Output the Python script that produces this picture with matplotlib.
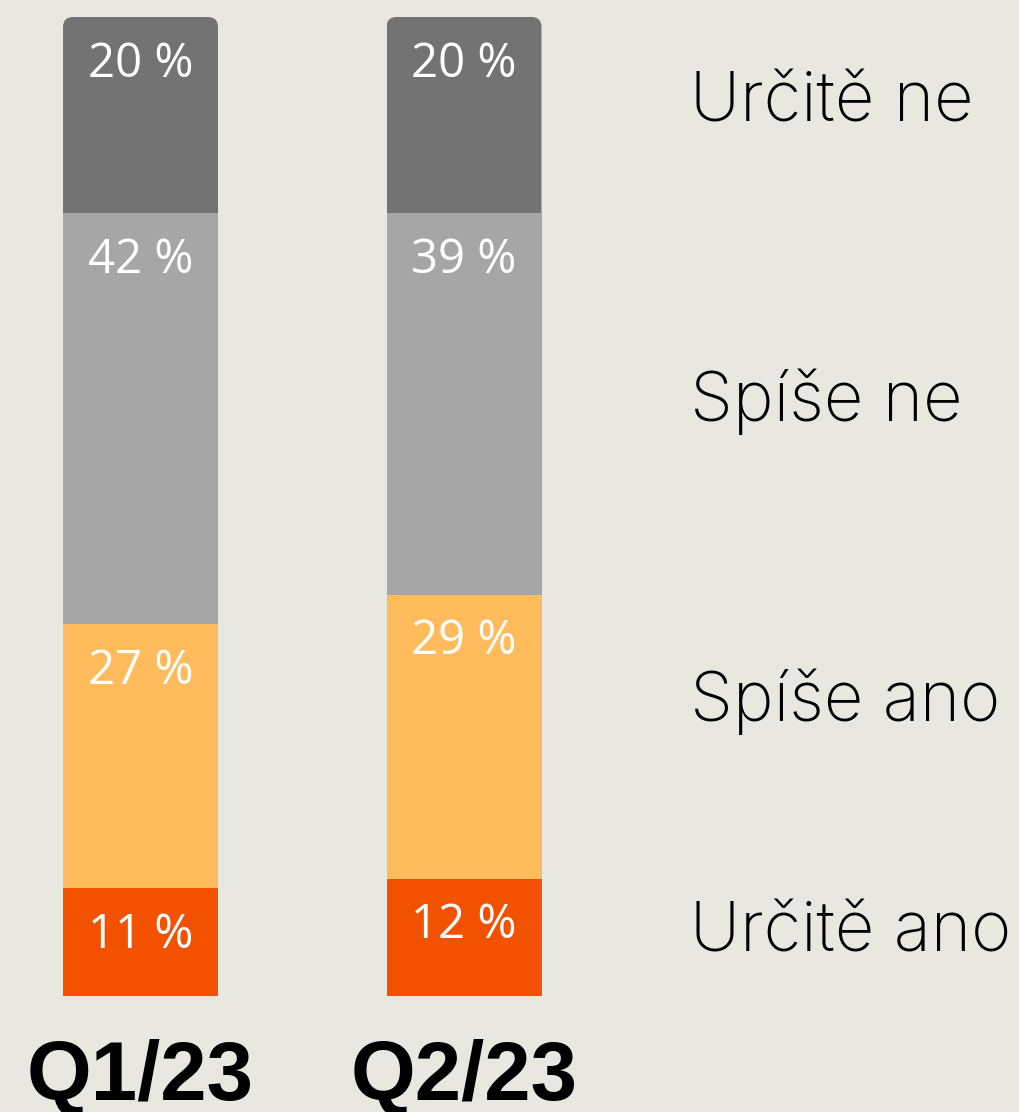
import matplotlib
matplotlib.use("Agg")
import matplotlib.pyplot as plt
from matplotlib.patches import FancyBboxPatch

# data
quarters = ["Q1/23", "Q2/23"]
answers = ["Určitě ano", "Spíše ano", "Spíše ne", "Určitě ne"]
shares = {
    "Určitě ano": [11, 12],
    "Spíše ano": [27, 29],
    "Spíše ne": [42, 39],
    "Určitě ne": [20, 20],
}
colors = ["#F25100", "#FFBB5C", "#A6A6A6", "#737373"]
legend_y = [4.6, 28.1, 58.7, 89.3]

BG = "#E9E8E0"
W, H = 1019, 1112

fig = plt.figure(figsize=(W / 100, H / 100), dpi=100, facecolor=BG)
# axes spans bar bottom (y=996px) to bar top (y=17px)
ax = fig.add_axes([0, (H - 996) / H, 1, (996 - 17) / H])
ax.set_facecolor(BG)
ax.set_xlim(-140.5 / 323.5, (W - 140.5) / 323.5)
ax.set_ylim(0, 100)
ax.axis("off")

x = list(range(len(quarters)))
width = 155 / 323.5
px_x = 1 / 323.5
px_y = 100 / 979
bottoms = [0, 0]
for i, ans in enumerate(answers):
    vals = shares[ans]
    bars = ax.bar(x, vals, width=width, bottom=bottoms, color=colors[i], zorder=2)
    if i == len(answers) - 1:
        # round the top corners of the last segment
        for j, rect in zip(x, bars):
            clip = FancyBboxPatch(
                (j - width / 2, bottoms[j] - 3), width, vals[j] + 3,
                boxstyle=f"round,pad=0,rounding_size={10 * px_x}",
                mutation_aspect=px_y / px_x, transform=ax.transData,
            )
            rect.set_clip_path(clip)
    for j in x:
        top = bottoms[j] + vals[j]
        ax.text(j, top - 4.8, f"{vals[j]} %", ha="center", va="center",
                color="white", fontsize=34, family="Open Sans", zorder=3)
        bottoms[j] += vals[j]
    ax.text(1.7, legend_y[i], ans, ha="left", va="baseline", color="black",
            fontsize=49.5, family="Inter", fontweight="light", clip_on=False)

for j, q in zip(x, quarters):
    ax.text(j, -10.6, q, ha="center", va="baseline", color="black",
            fontsize=60, family="Liberation Sans", fontweight="bold",
            clip_on=False)

fig.savefig("out.png", dpi=100, facecolor=BG)
